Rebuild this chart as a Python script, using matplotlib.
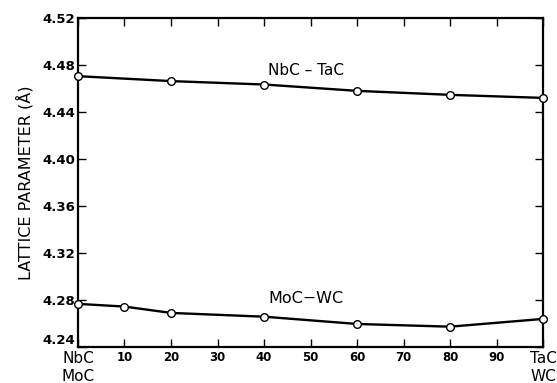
import numpy as np
import matplotlib
matplotlib.use("Agg")
import matplotlib.pyplot as plt

# composition (mol %) and lattice parameter (A)
nbc_tac_x = [0, 20, 40, 60, 80, 100]
nbc_tac_a = [4.4705, 4.4663, 4.4634, 4.4580, 4.4546, 4.4520]

moc_wc_x = [0, 10, 20, 40, 60, 80, 100]
moc_wc_a = [4.2767, 4.2744, 4.2690, 4.2658, 4.2596, 4.2573, 4.2639]

x_ticks = [0, 10, 20, 30, 40, 50, 60, 70, 80, 90, 100]
x_labels = ["NbC\nMoC", "10", "20", "30", "40", "50", "60", "70", "80", "90", "TaC\nWC"]
y_ticks = [4.24, 4.28, 4.32, 4.36, 4.40, 4.44, 4.48, 4.52]

plt.rcParams['font.family'] = ['DejaVu Sans']

fig = plt.figure(figsize=(5.57, 3.83), dpi=100)
ax = fig.add_axes([0.140, 0.094, 0.835, 0.859])

for xs, ys in [(nbc_tac_x, nbc_tac_a), (moc_wc_x, moc_wc_a)]:
    ax.plot(xs, ys, color="black", lw=1.7, marker="o", ms=5.5,
            mfc="white", mec="black", mew=1.0, clip_on=False, zorder=3)

ax.text(49, 4.4757, "NbC – TaC", ha="center", va="center", fontsize=11)
ax.text(49, 4.2812, "MoC−WC", ha="center", va="center", fontsize=11.5)

ax.set_xlim(0, 100)
ax.set_ylim(4.24, 4.52)
ax.set_xticks(x_ticks)
ax.set_xticklabels(x_labels)
ax.set_yticks(y_ticks)
ax.set_yticklabels([f"{v:.2f}" for v in y_ticks], fontweight="bold", fontsize=9.5)
ax.get_yticklabels()[0].set_va("bottom")

for i, lab in enumerate(ax.get_xticklabels()):
    if i in (0, len(x_ticks) - 1):
        lab.set_fontsize(11)
    else:
        lab.set_fontsize(8.5)
        lab.set_fontweight("bold")

ax.tick_params(axis="both", direction="in", length=6, width=1.0,
               top=True, right=True, pad=3)
ax.tick_params(axis="y", pad=2)
for s in ax.spines.values():
    s.set_linewidth(1.6)

ax.set_ylabel("LATTICE PARAMETER (Å)", fontsize=11.5, labelpad=6)

fig.savefig("out.png", dpi=100)
